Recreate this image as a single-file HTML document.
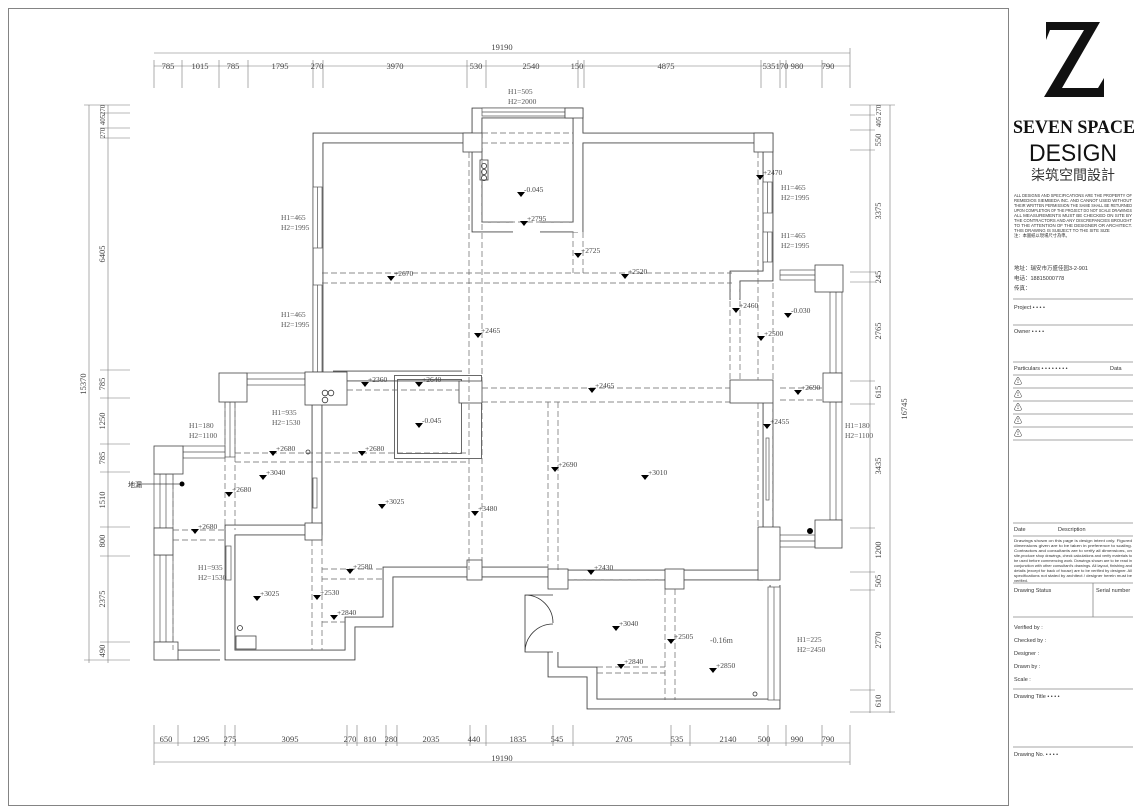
<!DOCTYPE html>
<html><head><meta charset="utf-8"><style>
html,body{margin:0;padding:0;background:#fff;}
svg{display:block;}
.d{font-family:"Liberation Serif",serif;font-size:8.5px;fill:#444;}
.e{font-family:"Liberation Serif",serif;font-size:7.5px;fill:#444;}
.h{font-family:"Liberation Serif",serif;font-size:7.5px;fill:#555;}
.t{font-family:"Liberation Sans","Noto Sans CJK SC",sans-serif;fill:#333;}
</style></head><body>
<svg width="1140" height="811" viewBox="0 0 1140 811" xmlns="http://www.w3.org/2000/svg">
<defs>
<polygon id="tri" points="-4,-3 4,-3 0,2" fill="#000"/>
<g id="walls" fill="none">
<path d="M318,372 V138 H472"/>
<path d="M477,138 V113 H578 V232"/>
<path d="M578,138 H768 V276 H735 V300"/>
<path d="M477,148 V227 H513 M540,227 H578"/>
<path d="M333,376 H462"/>
<path d="M317,405 V530 H230 V655 H350 V622 H388 V572 H548"/>
<path d="M548,575 H763"/>
<path d="M553,652 V672 H592 V704 H775 V585"/>
<path d="M768,403 V527"/>
<path d="M178,655 H220"/>
</g>
</defs>
<rect x="8.5" y="8.5" width="1000" height="797" fill="none" stroke="#666" stroke-width="0.8"/>
<use href="#walls" stroke="#444" stroke-width="10.8"/>
<use href="#walls" stroke="#fff" stroke-width="9"/>
<g fill="#fff" stroke="#555" stroke-width="0.7">
<rect x="482" y="108" width="83" height="8"/><line x1="482" y1="112" x2="565" y2="112"/>
<rect x="313" y="187" width="9" height="61"/><line x1="317.5" y1="187" x2="317.5" y2="248"/>
<rect x="313" y="285" width="9" height="87"/><line x1="317.5" y1="285" x2="317.5" y2="372"/>
<rect x="763" y="182" width="9" height="31"/><line x1="767.5" y1="182" x2="767.5" y2="213"/>
<rect x="763" y="232" width="9" height="30"/><line x1="767.5" y1="232" x2="767.5" y2="262"/>
<rect x="780" y="270" width="36" height="10"/><line x1="780" y1="275" x2="816" y2="275"/>
<rect x="830" y="292" width="12" height="81"/><line x1="836" y1="292" x2="836" y2="373"/>
<rect x="830" y="402" width="12" height="118"/><line x1="836" y1="402" x2="836" y2="520"/>
<rect x="778" y="535" width="37" height="12"/><line x1="778" y1="541" x2="815" y2="541"/>
<rect x="768" y="587" width="12" height="113"/><line x1="774" y1="587" x2="774" y2="700"/>
<rect x="247" y="373" width="58" height="12"/><line x1="247" y1="379" x2="305" y2="379"/>
<rect x="225" y="402" width="10" height="55"/><line x1="230" y1="402" x2="230" y2="457"/>
<rect x="183" y="446" width="42" height="12"/><line x1="183" y1="452" x2="225" y2="452"/>
<rect x="154" y="474" width="19" height="54"/><line x1="160" y1="474" x2="160" y2="528"/><line x1="166" y1="474" x2="166" y2="528"/>
<rect x="154" y="555" width="19" height="87"/><line x1="160" y1="555" x2="160" y2="642"/><line x1="166" y1="555" x2="166" y2="642"/>
<rect x="226" y="546" width="5" height="34"/>
<rect x="766" y="438" width="3" height="62"/>
<rect x="313" y="478" width="4" height="30"/>
</g>
<rect x="394.5" y="375.5" width="87" height="83" fill="none" stroke="#444" stroke-width="0.8"/>
<rect x="397.5" y="379.5" width="64" height="74" fill="none" stroke="#444" stroke-width="0.8"/>
<g fill="#fff" stroke="#444" stroke-width="0.8">
<rect x="463" y="133" width="19" height="19"/>
<rect x="754" y="133" width="19" height="19"/>
<rect x="565" y="108" width="18" height="10"/>
<rect x="815" y="265" width="28" height="27"/>
<rect x="823" y="373" width="19" height="29"/>
<rect x="815" y="520" width="27" height="28"/>
<rect x="730" y="380" width="43" height="23"/>
<rect x="758" y="527" width="22" height="53"/>
<rect x="548" y="569" width="20" height="20"/>
<rect x="665" y="569" width="19" height="20"/>
<rect x="305" y="372" width="42" height="33"/>
<rect x="459" y="381" width="23" height="22"/>
<rect x="305" y="523" width="17" height="17"/>
<rect x="219" y="373" width="28" height="29"/>
<rect x="154" y="446" width="29" height="28"/>
<rect x="154" y="528" width="19" height="27"/>
<rect x="154" y="642" width="24" height="18"/>
<rect x="467" y="560" width="15" height="20"/>
<rect x="480" y="160" width="8" height="20"/>
<rect x="236" y="636" width="20" height="13"/>
</g>
<g fill="none" stroke="#333" stroke-width="0.8">
<circle cx="484" cy="166" r="2.6"/><circle cx="484" cy="172" r="2.6"/><circle cx="484" cy="178" r="2.6"/>
<circle cx="325" cy="393" r="2.8"/><circle cx="331" cy="393" r="2.8"/><circle cx="325" cy="400" r="2.8"/>
<circle cx="240" cy="628" r="2.5"/><circle cx="308" cy="452" r="2"/><circle cx="755" cy="694" r="2"/>
<path d="M553,595 H525 V652 H553 M525,595 A28,28 0 0 1 553,623 M525,652 A28,28 0 0 1 553,624"/>
</g>
<circle cx="182" cy="484" r="2.5" fill="#000"/><circle cx="810" cy="531" r="3" fill="#000"/>
<line x1="138" y1="484" x2="180" y2="484" stroke="#444" stroke-width="0.7"/>
<text x="128" y="487" class="t" font-size="7">地漏</text>
<g stroke="#666" stroke-width="0.7" stroke-dasharray="6,3" fill="none">
<path d="M322,273 H732 M322,283 H732"/>
<path d="M469,152 V570 M482,152 V570"/>
<path d="M482,133 H573 M482,143 H573 M482,222 H573"/>
<path d="M573,232 V273 M583,232 V273"/>
<path d="M730,283 V380 M740,283 V380 M758,152 V380 M773,283 V380"/>
<path d="M482,388 H730 M482,402 H730"/>
<path d="M548,402 V570 M558,402 V570"/>
<path d="M758,403 V527 M773,403 V527"/>
<path d="M780,388 H823 M780,400 H823"/>
<path d="M235,453 H469 M235,462 H469 M347,390 H459"/>
<path d="M225,402 V530 M235,402 V530"/>
<path d="M173,530 H225 M173,540 H225"/>
<path d="M173,474 V650"/>
<path d="M312,540 V650 M322,540 V650"/>
<path d="M322,569 H383 M322,579 H383 M322,622 H345"/>
<path d="M665,589 V700 M675,589 V700"/>
<path d="M597,667 H665 M597,673 H665 M568,580 H665"/>
</g>
<g stroke="#777" stroke-width="0.6" fill="none">
<path d="M154,53 H850 M154,66 H850"/>
<path d="M154,60 V88 M182,60 V88 M219,60 V88 M248,60 V88 M313,60 V88 M323,60 V88 M467,60 V88 M486,60 V88 M578,60 V88 M584,60 V88 M761,60 V88 M780,60 V88 M786,60 V88 M822,60 V88 M850,48 V88"/>
<path d="M154,743 H850 M154,762 H850"/>
<path d="M154,725 V765 M178,725 V746 M225,725 V746 M235,725 V746 M347,725 V746 M357,725 V746 M386,725 V746 M397,725 V746 M470,725 V746 M486,725 V746 M553,725 V746 M573,725 V746 M671,725 V746 M690,725 V746 M768,725 V746 M786,725 V746 M822,725 V746 M850,725 V765"/>
<path d="M89,105 V663 M108,105 V663"/>
<path d="M84,105 H130 M100,113 H130 M100,128 H130 M100,138 H130 M100,370 H130 M100,398 H130 M100,444 H130 M100,472 H130 M100,527 H130 M100,556 H130 M100,642 H130 M84,660 H130"/>
<path d="M890,105 V713 M870,105 V713"/>
<path d="M850,105 H895 M850,115 H875 M850,130 H875 M850,150 H875 M850,272 H875 M850,282 H875 M850,381 H875 M850,404 H875 M850,528 H875 M850,572 H875 M850,590 H875 M850,690 H875 M850,712 H895"/>
</g>
<g class="d" text-anchor="middle">
<text x="502" y="50">19190</text>
<text x="168" y="69">785</text><text x="200" y="69">1015</text><text x="233" y="69">785</text><text x="280" y="69">1795</text><text x="317" y="69">270</text><text x="395" y="69">3970</text><text x="476" y="69">530</text><text x="531" y="69">2540</text><text x="577" y="69">150</text><text x="666" y="69">4875</text><text x="769" y="69">535</text><text x="782" y="69">170</text><text x="797" y="69">980</text><text x="828" y="69">790</text>
<text x="166" y="742">650</text><text x="201" y="742">1295</text><text x="230" y="742">275</text><text x="290" y="742">3095</text><text x="350" y="742">270</text><text x="370" y="742">810</text><text x="391" y="742">280</text><text x="431" y="742">2035</text><text x="474" y="742">440</text><text x="518" y="742">1835</text><text x="557" y="742">545</text><text x="624" y="742">2705</text><text x="677" y="742">535</text><text x="728" y="742">2140</text><text x="764" y="742">500</text><text x="797" y="742">990</text><text x="828" y="742">790</text>
<text x="502" y="761">19190</text>
</g>
<g class="d" text-anchor="middle">
<text transform="translate(86,384) rotate(-90)">15370</text>
<text transform="translate(105,110) rotate(-90)" font-size="7">270</text>
<text transform="translate(105,120) rotate(-90)" font-size="7">405</text>
<text transform="translate(105,133) rotate(-90)" font-size="7">270</text>
<text transform="translate(105,254) rotate(-90)">6405</text>
<text transform="translate(105,384) rotate(-90)">785</text>
<text transform="translate(105,421) rotate(-90)">1250</text>
<text transform="translate(105,458) rotate(-90)">785</text>
<text transform="translate(105,500) rotate(-90)">1510</text>
<text transform="translate(105,541) rotate(-90)">800</text>
<text transform="translate(105,599) rotate(-90)">2375</text>
<text transform="translate(105,651) rotate(-90)">490</text>
<text transform="translate(907,409) rotate(-90)">16745</text>
<text transform="translate(881,110) rotate(-90)" font-size="7">270</text>
<text transform="translate(881,122) rotate(-90)" font-size="7">405</text>
<text transform="translate(881,140) rotate(-90)">550</text>
<text transform="translate(881,211) rotate(-90)">3375</text>
<text transform="translate(881,277) rotate(-90)">245</text>
<text transform="translate(881,331) rotate(-90)">2765</text>
<text transform="translate(881,392) rotate(-90)">615</text>
<text transform="translate(881,466) rotate(-90)">3435</text>
<text transform="translate(881,550) rotate(-90)">1200</text>
<text transform="translate(881,581) rotate(-90)">505</text>
<text transform="translate(881,640) rotate(-90)">2770</text>
<text transform="translate(881,701) rotate(-90)">610</text>
</g>
<g class="h">
<text x="508" y="94">H1=505</text><text x="508" y="104">H2=2000</text>
<text x="281" y="220">H1=465</text><text x="281" y="230">H2=1995</text>
<text x="281" y="317">H1=465</text><text x="281" y="327">H2=1995</text>
<text x="781" y="190">H1=465</text><text x="781" y="200">H2=1995</text>
<text x="781" y="238">H1=465</text><text x="781" y="248">H2=1995</text>
<text x="272" y="415">H1=935</text><text x="272" y="425">H2=1530</text>
<text x="189" y="428">H1=180</text><text x="189" y="438">H2=1100</text>
<text x="198" y="570">H1=935</text><text x="198" y="580">H2=1530</text>
<text x="845" y="428">H1=180</text><text x="845" y="438">H2=1100</text>
<text x="797" y="642">H1=225</text><text x="797" y="652">H2=2450</text>
<text x="710" y="643" font-size="8">-0.16m</text>
</g>
<g class="e">
<use href="#tri" x="521" y="195"/><text x="524" y="192">-0.045</text>
<use href="#tri" x="524" y="224"/><text x="527" y="221">+2795</text>
<use href="#tri" x="578" y="256"/><text x="581" y="253">+2725</text>
<use href="#tri" x="391" y="279"/><text x="394" y="276">+2670</text>
<use href="#tri" x="625" y="277"/><text x="628" y="274">+2520</text>
<use href="#tri" x="478" y="336"/><text x="481" y="333">+2465</text>
<use href="#tri" x="760" y="178"/><text x="763" y="175">+2470</text>
<use href="#tri" x="736" y="311"/><text x="739" y="308">+2460</text>
<use href="#tri" x="788" y="316"/><text x="791" y="313">-0.030</text>
<use href="#tri" x="761" y="339"/><text x="764" y="336">+2500</text>
<use href="#tri" x="365" y="385"/><text x="368" y="382">+2360</text>
<use href="#tri" x="419" y="385"/><text x="422" y="382">+2640</text>
<use href="#tri" x="592" y="391"/><text x="595" y="388">+2465</text>
<use href="#tri" x="798" y="393"/><text x="801" y="390">+2690</text>
<use href="#tri" x="419" y="426"/><text x="422" y="423">-0.045</text>
<use href="#tri" x="767" y="427"/><text x="770" y="424">+2455</text>
<use href="#tri" x="273" y="454"/><text x="276" y="451">+2680</text>
<use href="#tri" x="362" y="454"/><text x="365" y="451">+2680</text>
<use href="#tri" x="263" y="478"/><text x="266" y="475">+3040</text>
<use href="#tri" x="229" y="495"/><text x="232" y="492">+2680</text>
<use href="#tri" x="382" y="507"/><text x="385" y="504">+3025</text>
<use href="#tri" x="475" y="514"/><text x="478" y="511">+3480</text>
<use href="#tri" x="555" y="470"/><text x="558" y="467">+2690</text>
<use href="#tri" x="645" y="478"/><text x="648" y="475">+3010</text>
<use href="#tri" x="195" y="532"/><text x="198" y="529">+2680</text>
<use href="#tri" x="350" y="572"/><text x="353" y="569">+2580</text>
<use href="#tri" x="591" y="573"/><text x="594" y="570">+2430</text>
<use href="#tri" x="257" y="599"/><text x="260" y="596">+3025</text>
<use href="#tri" x="317" y="598"/><text x="320" y="595">+2530</text>
<use href="#tri" x="334" y="618"/><text x="337" y="615">+2840</text>
<use href="#tri" x="616" y="629"/><text x="619" y="626">+3040</text>
<use href="#tri" x="671" y="642"/><text x="674" y="639">+2505</text>
<use href="#tri" x="621" y="667"/><text x="624" y="664">+2840</text>
<use href="#tri" x="713" y="671"/><text x="716" y="668">+2850</text>
</g>
<g>
<path d="M1046,22 H1100 L1062,88 H1098 L1104,78 V97 H1044 L1084,30 H1050 L1046,40 Z" fill="#111"/>
<text x="1074" y="133" text-anchor="middle" font-family="Liberation Serif,serif" font-size="19" font-weight="bold" textLength="122" lengthAdjust="spacingAndGlyphs" fill="#111">SEVEN SPACE</text>
<text x="1073" y="161" text-anchor="middle" font-family="Liberation Sans,sans-serif" font-size="24" textLength="88" lengthAdjust="spacingAndGlyphs" fill="#111">DESIGN</text>
<text x="1073" y="180" text-anchor="middle" class="t" font-size="14" fill="#222">柒筑空間設計</text>
<g class="t" font-size="4.3" fill="#444">
<text x="1014" y="197" textLength="118" lengthAdjust="spacingAndGlyphs">ALL DESIGNS AND SPECIFICATIONS ARE THE PROPERTY OF</text>
<text x="1014" y="202" textLength="118" lengthAdjust="spacingAndGlyphs">REMEDIOS SIEMBEDA INC. AND CANNOT USED WITHOUT</text>
<text x="1014" y="207" textLength="118" lengthAdjust="spacingAndGlyphs">THEIR WRITTEN PERMISSION THE SAME SHALL BE RETURNED</text>
<text x="1014" y="212" textLength="118" lengthAdjust="spacingAndGlyphs">UPON COMPLETION OF THE PROJECT DO NOT SCALE DRAWINGS</text>
<text x="1014" y="217" textLength="118" lengthAdjust="spacingAndGlyphs">ALL MEASUREMENTS MUST BE CHECKED ON SITE BY</text>
<text x="1014" y="222" textLength="118" lengthAdjust="spacingAndGlyphs">THE CONTRACTORS AND ANY DISCREPANCIES BROUGHT</text>
<text x="1014" y="227" textLength="118" lengthAdjust="spacingAndGlyphs">TO THE ATTENTION OF THE DESIGNER OR ARCHITECT.</text>
<text x="1014" y="232">THIS DRAWING IS SUBJECT TO THE SITE SIZE</text>
<text x="1014" y="237">注：本圖紙以現場尺寸為準。</text>
</g>
<g class="t" font-size="5.5" fill="#333">
<text x="1014" y="270">地址：瑞安市万盛佳园3-2-901</text>
<text x="1014" y="280">电话：18815000778</text>
<text x="1014" y="290">传真：</text>
<text x="1014" y="309">Project • • • •</text>
<text x="1014" y="333">Owner • • • •</text>
<text x="1014" y="370">Particulars • • • • • • • •</text><text x="1110" y="370">Data</text>
<text x="1014" y="531">Date</text><text x="1058" y="531">Description</text>
<text x="1014" y="592">Drawing Status</text><text x="1096" y="592">Serial number</text>
<text x="1014" y="629">Verified by  :</text>
<text x="1014" y="642">Checked by :</text>
<text x="1014" y="655">Designer    :</text>
<text x="1014" y="668">Drawn by    :</text>
<text x="1014" y="681">Scale         :</text>
<text x="1014" y="698">Drawing Title • • • •</text>
<text x="1014" y="756">Drawing No. • • • •</text>
</g>
<g class="t" font-size="4" fill="#444">
<text x="1014" y="542" textLength="118" lengthAdjust="spacingAndGlyphs">Drawings shown on this page is design intent only. Figured</text>
<text x="1014" y="547" textLength="118" lengthAdjust="spacingAndGlyphs">dimensions given are to be taken in preference to scaling.</text>
<text x="1014" y="552" textLength="118" lengthAdjust="spacingAndGlyphs">Contractors and consultants are to verify all dimensions, on</text>
<text x="1014" y="557" textLength="118" lengthAdjust="spacingAndGlyphs">site,produce shop drawings, check calculations and verify materials to</text>
<text x="1014" y="562" textLength="118" lengthAdjust="spacingAndGlyphs">be used before commencing work. Drawings shown are to be read in</text>
<text x="1014" y="567" textLength="118" lengthAdjust="spacingAndGlyphs">conjunction with other consultant's drawings. All layout, finishing and</text>
<text x="1014" y="572" textLength="118" lengthAdjust="spacingAndGlyphs">details (except for back of house) are to be verified by designer. All</text>
<text x="1014" y="577" textLength="118" lengthAdjust="spacingAndGlyphs">specifications not stated by architect / designer herein must be</text>
<text x="1014" y="582">verified.</text>
</g>
<g font-size="8" fill="#444" class="t">
<text x="1014" y="384">⚠</text><text x="1014" y="397">⚠</text><text x="1014" y="410">⚠</text><text x="1014" y="423">⚠</text><text x="1014" y="436">⚠</text>
</g>
<g stroke="#888" stroke-width="0.8">
<path d="M1013,299 H1133 M1013,325 H1133 M1013,362 H1133 M1013,375 H1133 M1013,388 H1133 M1013,401 H1133 M1013,414 H1133 M1013,427 H1133 M1013,440 H1133 M1013,523 H1133 M1013,536 H1133 M1013,583 H1133 M1013,617 H1133 M1013,689 H1133 M1013,747 H1133 M1093,583 V617"/>
</g>
</g>
</svg>
</body></html>
